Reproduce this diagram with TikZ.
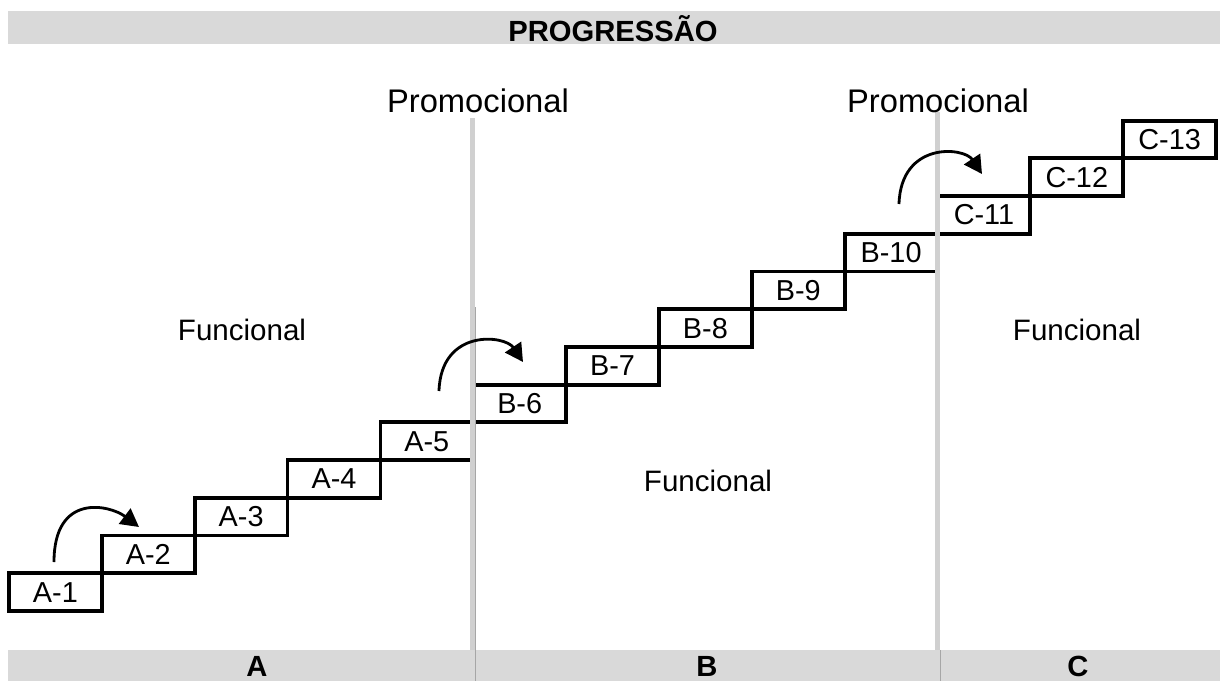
\documentclass[tikz,border=0pt]{standalone}
\usepackage{fontspec}
\setmainfont{Liberation Sans}
\usetikzlibrary{arrows.meta}

\definecolor{barGray}{HTML}{D9D9D9}
\definecolor{lineGray}{HTML}{D0D0D0}

\begin{document}
\begin{tikzpicture}[x=0.01cm,y=-0.01cm,
    stepbox/.style={draw,line width=0.038cm,minimum width=0.928cm,minimum height=0.377cm,
        inner sep=0pt,outer sep=0pt,anchor=south west,font=\fontsize{8.2}{10}\selectfont},
    bar/.style={fill=barGray,draw=none},
    divider/.style={draw=lineGray,line width=0.055cm},
    jump/.style={line width=0.028cm,-{Triangle[length=0.18cm,width=0.19cm]}},
    lbl/.style={font=\fontsize{9.3}{11}\selectfont},
    area/.style={font=\fontsize{8.4}{10}\selectfont},
    head/.style={font=\bfseries\fontsize{8.3}{10}\selectfont}]
    \useasboundingbox (0,0) rectangle (1220,681);

    % header and footer bars
    \fill[bar] (8,11) rectangle (1220,44);
    \node[head] (title) at (613,29) {PROGRESSÃO};
    \fill[bar] (8,650) rectangle (1220,681);

    % the stairs
    \node[stepbox] (a1) at (9,611) {A-1};
    \node[stepbox] (a2) at (a1.north east) {A-2};
    \node[stepbox] (a3) at (a2.north east) {A-3};
    \node[stepbox] (a4) at (a3.north east) {A-4};
    \node[stepbox] (a5) at (a4.north east) {A-5};
    \node[stepbox] (b6) at (a5.north east) {B-6};
    \node[stepbox] (b7) at (b6.north east) {B-7};
    \node[stepbox] (b8) at (b7.north east) {B-8};
    \node[stepbox] (b9) at (b8.north east) {B-9};
    \node[stepbox] (b10) at (b9.north east) {B-10};
    \node[stepbox] (c11) at (b10.north east) {C-11};
    \node[stepbox] (c12) at (c11.north east) {C-12};
    \node[stepbox] (c13) at (c12.north east) {C-13};

    % class limits
    \coordinate (limAtop) at (472.5,118);
    \coordinate (limAbot) at (472.5,650);
    \coordinate (limBtop) at (937.5,112);
    \coordinate (limBbot) at (937.5,650);
    \draw[divider] (limAtop) -- (limAbot);
    \draw[divider] (limBtop) -- (limBbot);
    \draw[gray!70,line width=0.01cm] (475.5,307) -- (475.5,681);
    \draw[gray!70,line width=0.01cm] (940,650) -- (940,681);

    % texts
    \node[lbl] (promoA) at (478,101) {Promocional};
    \node[lbl] (promoB) at (938,101) {Promocional};
    \node[area] (funcA) at (242,330) {Funcional};
    \node[area] (funcB) at (708,481) {Funcional};
    \node[area] (funcC) at (1077,330) {Funcional};
    \node[head] (classA) at (257,666) {A};
    \node[head] (classB) at (707,666) {B};
    \node[head] (classC) at (1078,666) {C};

    % jumps
    \coordinate (j1s) at (54,562);
    \coordinate (j1e) at (139,527);
    \coordinate (j2s) at (439,391);
    \coordinate (j2e) at (523,362);
    \coordinate (j3s) at (899,204);
    \coordinate (j3e) at (982,174);
    \draw[jump] (j1s) .. controls (54,492) and (110,505) .. (j1e);
    \draw[jump] (j2s) .. controls (441,328) and (505,335) .. (j2e);
    \draw[jump] (j3s) .. controls (901,141) and (964,147) .. (j3e);
\end{tikzpicture}
\end{document}
